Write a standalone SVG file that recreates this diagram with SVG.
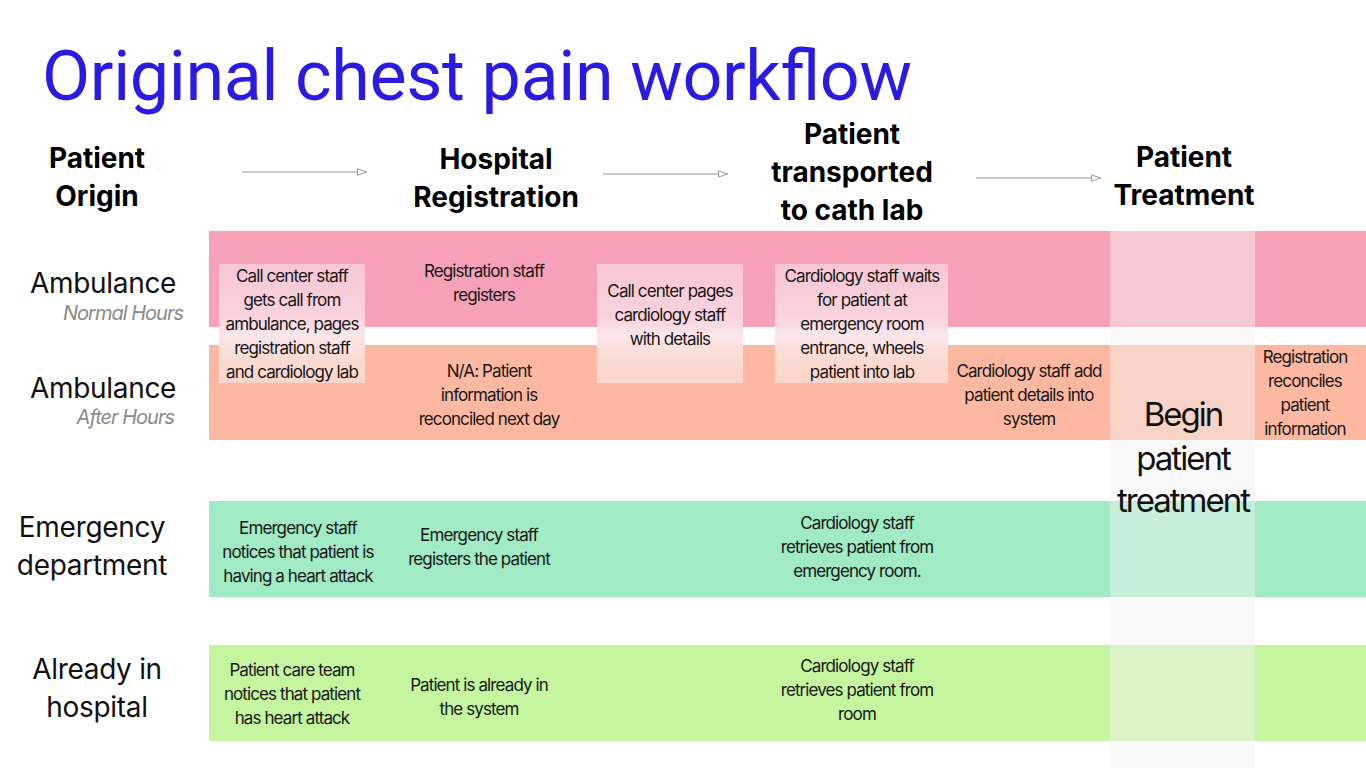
<svg xmlns="http://www.w3.org/2000/svg" width="1366" height="768" viewBox="0 0 1366 768">
  <defs>
    <style>
      .title { font-family: Roboto, "Liberation Sans", sans-serif; font-size: 70px; fill: #2b1ae3; }
      .head { font-family: Inter, "Liberation Sans", sans-serif; font-size: 28px; font-weight: 700; fill: #000; text-anchor: middle; letter-spacing: 0px; }
      .row { font-family: Inter, "Liberation Sans", sans-serif; font-size: 28px; fill: #111; text-anchor: middle; letter-spacing: -0.3px; }
      .sub { font-family: Inter, "Liberation Sans", sans-serif; font-size: 20px; font-style: italic; fill: #8a8a8a; text-anchor: end; letter-spacing: -1px; }
      .txt { font-family: Inter, "Liberation Sans", sans-serif; font-size: 17px; fill: #161616; text-anchor: middle; letter-spacing: -0.9px; }
      .big { font-family: Inter, "Liberation Sans", sans-serif; font-size: 33px; fill: #111; text-anchor: middle; letter-spacing: -2px; }
      .flow { stroke: #9a9a9a; stroke-width: 1; fill: none; }
    </style>
    <marker id="open-head" viewBox="0 0 10 8" refX="10" refY="4" markerWidth="10" markerHeight="8" markerUnits="userSpaceOnUse" orient="auto">
      <path d="M0.5,0.8 L9.5,4 L0.5,7.2 Z" fill="#fff" stroke="#9a9a9a" stroke-width="1"/>
    </marker>
    <linearGradient id="card-fill" x1="0" y1="0" x2="0" y2="1">
      <stop offset="0" stop-color="#f8c6d3"/>
      <stop offset="0.45" stop-color="#f9d3dd"/>
      <stop offset="0.6" stop-color="#fbe6ea"/>
      <stop offset="0.8" stop-color="#fadbd2"/>
      <stop offset="1" stop-color="#fad6ca"/>
    </linearGradient>
  </defs>

  <rect width="1366" height="768" fill="#fff"/>

  <text class="title" x="42" y="100" textLength="870">Original chest pain workflow</text>

  <!-- swimlane bands -->
  <g id="lanes">
    <rect x="209" y="231" width="1157" height="96" fill="#f7a1b8"/>
    <rect x="209" y="345" width="1157" height="95" fill="#feb8a1"/>
    <rect x="209" y="501" width="1157" height="96" fill="#a0eac4"/>
    <rect x="209" y="645" width="1157" height="96" fill="#c5f69f"/>
  </g>

  <!-- treatment column highlight -->
  <rect id="treatment-column" x="1110" y="231" width="145" height="537" fill="#f3f3f3" fill-opacity="0.48"/>

  <!-- column headers -->
  <g id="col-origin"><text class="head" x="97" y="168">Patient</text><text class="head" x="97" y="206">Origin</text></g>
  <g id="col-registration"><text class="head" x="496" y="169">Hospital</text><text class="head" x="496" y="207">Registration</text></g>
  <g id="col-transport"><text class="head" x="852" y="144">Patient</text><text class="head" x="852" y="182">transported</text><text class="head" x="852" y="220">to cath lab</text></g>
  <g id="col-treatment"><text class="head" x="1184" y="167">Patient</text><text class="head" x="1184" y="205">Treatment</text></g>

  <!-- flow arrows between stages -->
  <g id="connectors">
    <line class="flow" x1="242" y1="172" x2="367" y2="172" marker-end="url(#open-head)"/>
    <line class="flow" x1="603" y1="174" x2="728" y2="174" marker-end="url(#open-head)"/>
    <line class="flow" x1="976" y1="178" x2="1101" y2="178" marker-end="url(#open-head)"/>
  </g>

  <!-- row labels -->
  <g id="row-amb-normal"><text class="row" x="103" y="293">Ambulance</text><text class="sub" x="183" y="320">Normal Hours</text></g>
  <g id="row-amb-after"><text class="row" x="103" y="398">Ambulance</text><text class="sub" x="174" y="424">After Hours</text></g>
  <g id="row-emergency"><text class="row" x="92" y="537">Emergency</text><text class="row" x="92" y="575">department</text></g>
  <g id="row-hospital"><text class="row" x="97" y="679">Already in</text><text class="row" x="97" y="717">hospital</text></g>

  <!-- ambulance steps -->
  <g id="call-center">
    <rect x="219" y="264" width="146" height="119" fill="url(#card-fill)"/>
    <text class="txt" x="292" y="282">Call center staff</text>
    <text class="txt" x="292" y="306">gets call from</text>
    <text class="txt" x="292" y="330">ambulance, pages</text>
    <text class="txt" x="292" y="354">registration staff</text>
    <text class="txt" x="292" y="378">and cardiology lab</text>
  </g>
  <g id="reg-staff">
    <text class="txt" x="484" y="277">Registration staff</text>
    <text class="txt" x="484" y="301">registers</text>
  </g>
  <g id="call-pages">
    <rect x="597" y="264" width="146" height="119" fill="url(#card-fill)"/>
    <text class="txt" x="670" y="297">Call center pages</text>
    <text class="txt" x="670" y="321">cardiology staff</text>
    <text class="txt" x="670" y="345">with details</text>
  </g>
  <g id="cardio-waits">
    <rect x="775" y="264" width="173" height="119" fill="url(#card-fill)"/>
    <text class="txt" x="862" y="282">Cardiology staff waits</text>
    <text class="txt" x="862" y="306">for patient at</text>
    <text class="txt" x="862" y="330">emergency room</text>
    <text class="txt" x="862" y="354">entrance, wheels</text>
    <text class="txt" x="862" y="378">patient into lab</text>
  </g>
  <g id="na-reconciled">
    <text class="txt" x="489" y="377">N/A: Patient</text>
    <text class="txt" x="489" y="401">information is</text>
    <text class="txt" x="489" y="425">reconciled next day</text>
  </g>
  <g id="cardio-adds">
    <text class="txt" x="1029" y="377">Cardiology staff add</text>
    <text class="txt" x="1029" y="401">patient details into</text>
    <text class="txt" x="1029" y="425">system</text>
  </g>
  <g id="reg-reconciles">
    <text class="txt" x="1305" y="363">Registration</text>
    <text class="txt" x="1305" y="387">reconciles</text>
    <text class="txt" x="1305" y="411">patient</text>
    <text class="txt" x="1305" y="435">information</text>
  </g>
  <g id="begin-treatment">
    <text class="big" x="1183" y="426">Begin</text>
    <text class="big" x="1183" y="470">patient</text>
    <text class="big" x="1183" y="512">treatment</text>
  </g>

  <!-- emergency department steps -->
  <g id="ed-notices">
    <text class="txt" x="298" y="534">Emergency staff</text>
    <text class="txt" x="298" y="558">notices that patient is</text>
    <text class="txt" x="298" y="582">having a heart attack</text>
  </g>
  <g id="ed-registers">
    <text class="txt" x="479" y="541">Emergency staff</text>
    <text class="txt" x="479" y="565">registers the patient</text>
  </g>
  <g id="ed-retrieves">
    <text class="txt" x="857" y="529">Cardiology staff</text>
    <text class="txt" x="857" y="553">retrieves patient from</text>
    <text class="txt" x="857" y="577">emergency room.</text>
  </g>

  <!-- in-hospital steps -->
  <g id="ih-notices">
    <text class="txt" x="292" y="676">Patient care team</text>
    <text class="txt" x="292" y="700">notices that patient</text>
    <text class="txt" x="292" y="724">has heart attack</text>
  </g>
  <g id="ih-system">
    <text class="txt" x="479" y="691">Patient is already in</text>
    <text class="txt" x="479" y="715">the system</text>
  </g>
  <g id="ih-retrieves">
    <text class="txt" x="857" y="672">Cardiology staff</text>
    <text class="txt" x="857" y="696">retrieves patient from</text>
    <text class="txt" x="857" y="720">room</text>
  </g>
</svg>
